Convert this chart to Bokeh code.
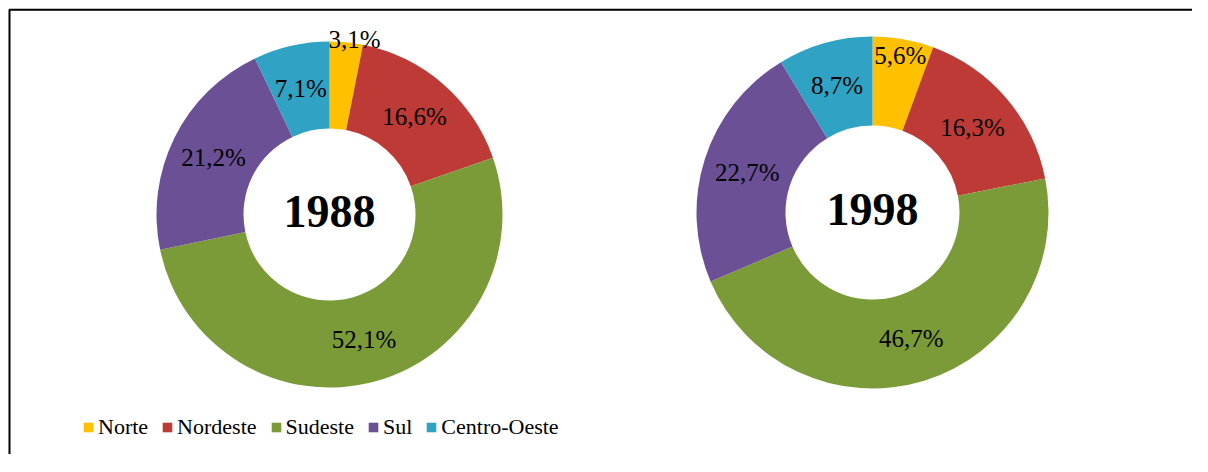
import math
from bokeh.plotting import figure
from bokeh.models import Range1d, BoxAnnotation, Legend, LegendItem, ColumnDataSource
from bokeh.core.properties import value
from bokeh.embed import file_html
from bokeh.resources import INLINE

# ---- data ----
regions = ["Norte", "Nordeste", "Sudeste", "Sul", "Centro-Oeste"]
years = ["1988", "1998"]
pct_1988 = [3.1, 16.6, 52.1, 21.2, 7.1]
pct_1998 = [5.6, 16.3, 46.7, 22.7, 8.7]
colors = ["#FFC000", "#BD3A36", "#7A9B38", "#6B5096", "#30A3C4"]

# ---- layout / style ----
W, H = 1192, 454
FONT = "Liberation Serif"
LABEL_W = 56  # approx label width in px used for fit test

p = figure(width=W, height=H, x_range=Range1d(0, W), y_range=Range1d(-H, 0),
           output_backend="svg", toolbar_location=None, min_border=0,
           x_axis_location=None, y_axis_location=None)
p.grid.visible = False
p.outline_line_color = None
p.background_fill_color = "white"
p.border_fill_color = "white"

donuts = [
    dict(vals=pct_1988, cx=329, cy=-214, r_out=173, r_in=86),
    dict(vals=pct_1998, cx=872, cy=-212, r_out=176, r_in=87),
]

renderers = []
for d, year in zip(donuts, years):
    vals = d["vals"]
    tot = sum(vals)
    cx, cy, ro, ri = d["cx"], d["cy"], d["r_out"], d["r_in"]
    starts, ends, lx, ly, lt, xo = [], [], [], [], [], []
    cum = 0.0
    for v in vals:
        a0 = math.pi / 2 - 2 * math.pi * cum / tot
        cum += v
        a1 = math.pi / 2 - 2 * math.pi * cum / tot
        starts.append(a0)
        ends.append(a1)
        span = a0 - a1
        mid = (a0 + a1) / 2
        rm = (ri + ro) / 2
        off = 0
        if span * rm >= LABEL_W:
            r = rm
        elif span * ro >= LABEL_W:
            r = LABEL_W / span
        else:
            r = ro + 3
            off = 8
        lx.append(cx + r * math.cos(mid))
        ly.append(cy + r * math.sin(mid))
        xo.append(off)
        lt.append(("%.1f" % v).replace(".", ",") + "%")
    src = ColumnDataSource(dict(region=regions, val=vals, start=starts, end=ends,
                                color=colors, x=[cx] * len(vals), y=[cy] * len(vals)))
    r = p.annular_wedge(x="x", y="y", inner_radius=ri, outer_radius=ro,
                        start_angle="start", end_angle="end", direction="clock",
                        fill_color="color", line_color=None, source=src)
    renderers.append(r)
    lsrc = ColumnDataSource(dict(x=lx, y=ly, text=lt, xo=xo))
    p.text(x="x", y="y", text="text", x_offset="xo", source=lsrc,
           text_font=value(FONT), text_font_size="25px", text_color="black",
           text_align="center", text_baseline="middle")
    p.text(x=[cx], y=[cy], text=[year], y_offset=-3, text_font=value(FONT),
           text_font_size="46px", text_font_style="bold", text_color="black",
           text_align="center", text_baseline="middle")

items = [LegendItem(label=reg, renderers=[renderers[0]], index=i) for i, reg in enumerate(regions)]
legend = Legend(items=items, orientation="horizontal", location=(82, 14),
                glyph_width=12, glyph_height=12, label_standoff=4, spacing=13,
                padding=0, margin=0, border_line_color=None, background_fill_alpha=0,
                label_text_font=FONT, label_text_font_size="22px", label_text_color="black")
p.add_layout(legend)

# chart-area frame: only its top and left edges fall inside the picture
p.add_layout(BoxAnnotation(left=9, top=-9.3, right=W + 20, bottom=-H - 20,
                           fill_alpha=0, line_color="black", line_width=2,
                           line_alpha=1))

open("out.html", "w").write(file_html(p, INLINE))
